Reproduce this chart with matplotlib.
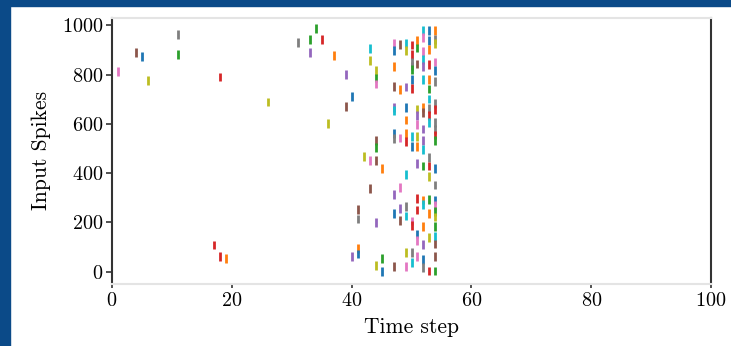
import matplotlib
matplotlib.use("Agg")
import matplotlib.pyplot as plt
from matplotlib.patches import Rectangle

plt.rcParams['font.family'] = 'cmr10'
plt.rcParams['axes.formatter.use_mathtext'] = True

# time steps that have spikes, and for each one the spiking inputs + their colour
steps = [1, 4, 5, 6, 11, 17, 18, 19, 26, 31, 33, 34, 35, 36, 37, 39, 40, 41, 42,
         43, 44, 45, 47, 48, 49, 50, 51, 52, 53, 54]

neuron_ids = [
    [813], [889], [873], [775], [962, 881], [108], [790, 61], [53], [689], [929],
    [944, 889], [986], [944], [603], [877], [800, 671], [711, 61],
    [253, 214, 95, 72], [467],
    [905, 857, 451, 338],
    [818, 786, 762, 532, 505, 451, 199, 26],
    [420, 54, 0],
    [928, 898, 834, 751, 668, 655, 560, 540, 314, 235, 20],
    [921, 738, 543, 341, 255, 207],
    [928, 897, 750, 665, 616, 560, 529, 396, 264, 226, 77, 20],
    [920, 883, 851, 835, 820, 780, 745, 550, 507, 206, 188, 77, 37],
    [938, 908, 843, 660, 634, 597, 548, 507, 440, 298, 250, 153, 126, 61],
    [978, 951, 894, 860, 834, 780, 665, 645, 579, 532, 497, 429, 291, 272, 183, 111, 50, 16],
    [978, 938, 901, 840, 780, 742, 701, 661, 634, 607, 462, 429, 386, 294, 237, 138, 3],
    [978, 942, 925, 851, 816, 773, 683, 658, 605, 578, 555, 532, 420, 352, 291, 270,
     245, 222, 183, 142, 112, 61, 3],
]

colours = [
    ['pink'], ['brown'], ['blue'], ['olive'], ['gray', 'green'], ['red'], ['red', 'red'],
    ['orange'], ['olive'], ['gray'], ['green', 'purple'], ['green'], ['red'], ['olive'],
    ['orange'], ['purple', 'brown'], ['blue', 'purple'],
    ['brown', 'gray', 'orange', 'blue'], ['olive'],
    ['cyan', 'olive', 'pink', 'brown'],
    ['olive', 'green', 'pink', 'brown', 'green', 'brown', 'purple', 'olive'],
    ['orange', 'green', 'blue'],
    ['pink', 'blue', 'orange', 'brown', 'purple', 'cyan', 'blue', 'gray', 'purple', 'blue', 'brown'],
    ['brown', 'orange', 'pink', 'pink', 'purple', 'brown'],
    ['cyan', 'olive', 'purple', 'blue', 'orange', 'orange', 'red', 'cyan', 'gray', 'cyan',
     'olive', 'pink'],
    ['red', 'red', 'gray', 'gray', 'green', 'blue', 'red', 'cyan', 'blue', 'pink', 'red',
     'gray', 'cyan'],
    ['orange', 'green', 'brown', 'olive', 'purple', 'pink', 'olive', 'orange', 'purple',
     'red', 'red', 'blue', 'pink', 'pink'],
    ['cyan', 'pink', 'pink', 'cyan', 'purple', 'cyan', 'orange', 'brown', 'purple', 'purple',
     'cyan', 'green', 'orange', 'cyan', 'orange', 'purple', 'blue', 'gray'],
    ['blue', 'blue', 'orange', 'red', 'orange', 'green', 'cyan', 'gray', 'red', 'cyan', 'gray',
     'red', 'olive', 'green', 'orange', 'olive', 'red'],
    ['orange', 'gray', 'olive', 'pink', 'blue', 'gray', 'gray', 'red', 'gray', 'gray', 'red',
     'green', 'blue', 'gray', 'blue', 'pink', 'green', 'olive', 'green', 'cyan', 'brown',
     'brown', 'green'],
]

t_vals, n_vals, c_vals = [], [], []
for t, ns, cs in zip(steps, neuron_ids, colours):
    for n, c in zip(ns, cs):
        t_vals.append(t)
        n_vals.append(n)
        c_vals.append('tab:' + c)

fig = plt.figure(figsize=(7.31, 3.46), dpi=100)
fig.patch.set_facecolor('white')
# blue frame around the figure (top and left edge)
fig.patches.append(Rectangle((0, 1 - 6 / 346), 1, 6 / 346, transform=fig.transFigure,
                             color='#0b4a88', zorder=0))
fig.patches.append(Rectangle((0, 0), 10 / 731, 1, transform=fig.transFigure,
                             color='#0b4a88', zorder=0))

ax = fig.add_axes([112 / 731, 1 - 284 / 346, 599 / 731, 266.3 / 346])
ax.scatter(t_vals, n_vals, c=c_vals, marker='|', s=40, linewidths=2)

ax.set_xlim(0, 100)
ax.set_ylim(-50, 1031)
ax.set_xticks([0, 20, 40, 60, 80, 100])
ax.set_yticks([0, 200, 400, 600, 800, 1000])

for side in ['left', 'right']:
    ax.spines[side].set_color('#333333')
    ax.spines[side].set_linewidth(1.5)
for side in ['top', 'bottom']:
    ax.spines[side].set_color('#e4e4e4')
    ax.spines[side].set_linewidth(1.5)

ax.tick_params(axis='y', length=4, width=1.2, color='#333333', labelsize=14.5, pad=2)
ax.tick_params(axis='x', length=3, width=1.2, color='#333333', labelsize=14.5, pad=3)

ax.set_xlabel("Time step", fontsize=15.5, labelpad=5)
ax.set_ylabel("Input Spikes", fontsize=15.5, labelpad=8)

fig.savefig("out.png", dpi=100)
